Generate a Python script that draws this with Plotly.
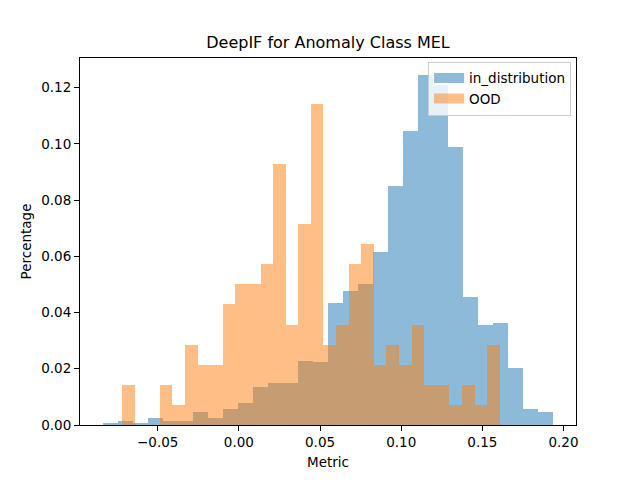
import numpy as np
import plotly.graph_objects as go

# Histogram heights (fraction of samples per bin)
in_dist_lo, in_dist_hi = -0.0840, 0.1938
in_dist_pct = [0.0005, 0.0015, 0.0005, 0.0026, 0.0015, 0.0015, 0.0047, 0.0026,
               0.0058, 0.0078, 0.0135, 0.0149, 0.0149, 0.0227, 0.0223, 0.0435,
               0.0477, 0.0503, 0.0616, 0.0849, 0.1044, 0.1243, 0.1210, 0.0989,
               0.0456, 0.0357, 0.0361, 0.0202, 0.0058, 0.0047]

ood_lo, ood_hi = -0.0720, 0.1607
ood_counts = [2, 0, 0, 2, 1, 4, 3, 3, 6, 7, 7, 8, 13, 5, 10, 16, 4, 5, 8, 9,
              3, 4, 3, 5, 2, 2, 1, 2, 1, 4]
ood_total = 140

x_ticks = [-0.05, 0.00, 0.05, 0.10, 0.15, 0.20]
y_ticks = [0.00, 0.02, 0.04, 0.06, 0.08, 0.10, 0.12]


def fmt(v):
    s = f'{abs(v):.2f}'
    return ('\u2212' + s) if v < 0 else s


def bins(lo, hi, n):
    edges = np.linspace(lo, hi, n + 1)
    return (edges[:-1] + edges[1:]) / 2, edges[1] - edges[0]


font = 'DejaVu Sans'
series = [
    ('in_distribution', in_dist_lo, in_dist_hi, in_dist_pct, '#1f77b4',
     'rgba(31,119,180,0.5)'),
    ('OOD', ood_lo, ood_hi, [c / ood_total for c in ood_counts], '#ff7f0e',
     'rgba(255,127,14,0.5)'),
]

fig = go.Figure()

for name, lo, hi, vals, color, rgba in series:
    centers, w = bins(lo, hi, len(vals))
    fig.add_trace(go.Bar(x=centers, y=vals, width=w, name=name,
                         marker=dict(color=color, line=dict(width=0)),
                         opacity=0.5, showlegend=False))

# legend-only entries so the handles look like matplotlib's wide patches
for name, lo, hi, vals, color, rgba in series:
    fig.add_trace(go.Scatter(x=[None], y=[None], mode='lines', name=name,
                             line=dict(color=rgba, width=10)))

axis_common = dict(showgrid=False, zeroline=False, showline=True, mirror=True,
                   linecolor='black', linewidth=1, ticks='outside', ticklen=5,
                   tickwidth=1, tickcolor='black',
                   tickfont=dict(family=font, size=13.5, color='black'))

fig.update_layout(
    width=640, height=480,
    margin=dict(l=80, r=64, t=58, b=53),
    paper_bgcolor='white', plot_bgcolor='white',
    barmode='overlay', bargap=0,
    font=dict(family=font, color='black'),
    title=dict(text='DeepIF for Anomaly Class MEL', x=0.5, xref='paper',
               xanchor='center', y=0.912, yanchor='middle',
               font=dict(family=font, size=16, color='black')),
    xaxis=dict(range=[-0.0979, 0.2077], tickvals=x_ticks,
               ticktext=[fmt(v) for v in x_ticks],
               title=dict(text='Metric', standoff=8,
                          font=dict(family=font, size=13.5)),
               **axis_common),
    yaxis=dict(range=[0, 0.1305], tickvals=y_ticks,
               ticktext=[fmt(v) for v in y_ticks],
               title=dict(text='Percentage', standoff=6,
                          font=dict(family=font, size=13.5)),
               **axis_common),
    legend=dict(x=0.99, y=0.99, xanchor='right', yanchor='top',
                bgcolor='rgba(255,255,255,0.8)', bordercolor='#cccccc',
                borderwidth=1, font=dict(family=font, size=13.5),
                itemwidth=30, tracegroupgap=2),
    showlegend=True,
)

fig.write_html('out.html', config={'displayModeBar': False},
               post_script="document.body.style.margin='0';")
